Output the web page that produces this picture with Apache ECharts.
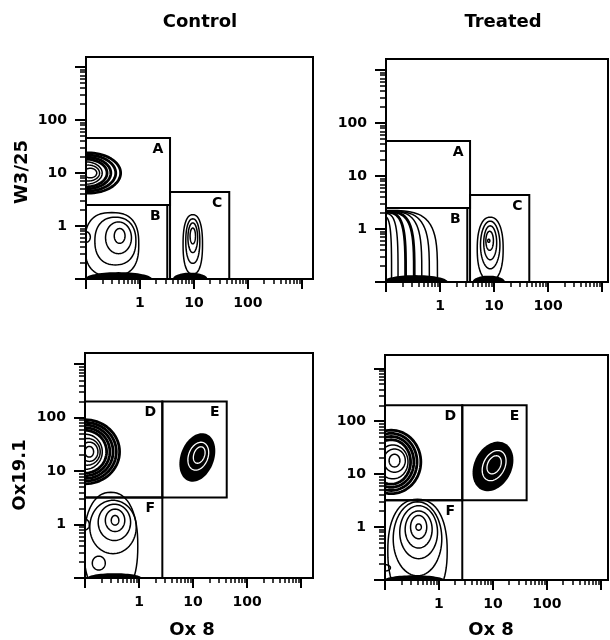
<!DOCTYPE html>
<html><head><meta charset="utf-8">
<script src="https://cdn.jsdelivr.net/npm/echarts@6/dist/echarts.min.js"></script>
<style>html,body{margin:0;padding:0;background:#fff}#c{width:610px;height:640px}</style>
</head><body><div id="c"></div>
<script>
// ---- tick values (log axes) ----
const majorTicks = [0.1, 1, 10, 100, 1000];
const minorTicks = [0.2,0.3,0.4,0.5,0.6,0.7,0.8,0.9, 2,3,4,5,6,7,8,9, 20,30,40,50,60,70,80,90, 200,300,400,500,600,700,800,900];
const tickLabels = [1, 10, 100];

// ---- column / row titles ----
const columnTitles = ['Control', 'Treated'];
const rowTitles = ['W3/25', 'Ox19.1'];
const xTitle = 'Ox 8';

// ---- gates: [xFrom, xTo, yFrom, yTo] in fluorescence units ----
const gateNamesW3 = ['A', 'B', 'C'];
const gatesW3 = [[0.1, 3.6, 2.5, 46], [0.1, 3.2, 0.1, 2.5], [3.6, 45, 0.1, 4.4]];
const gateNamesOx = ['D', 'E', 'F'];
const gatesOx = [[0.1, 2.7, 3.2, 200], [2.7, 42, 3.2, 200], [0.1, 2.7, 0.1, 3.2]];

// ---- contour levels: [centreX, centreY, halfWidthDecades, halfHeightDecades, tiltDeg, squareness] ----
// Control, W3/25 vs Ox 8
const ctrlW3Heavy = [[0.11,10,0.6,0.38,0,2],[0.105,10,0.53,0.34,0,2],[0.1,10,0.46,0.3,0,2],[0.1,10,0.39,0.26,0,2]];
const ctrlW3Lines = [[0.1,10,0.3,0.21,0,2],[0.11,10,0.21,0.15,0,2],[0.12,10,0.12,0.09,0,2],
  [0.3,0.45,0.5,0.6,0,2.6],[0.35,0.52,0.38,0.45,0,2.3],[0.4,0.6,0.24,0.3,0,2],[0.42,0.65,0.1,0.14,0,2],[0.1,0.62,0.08,0.1,0,2],
  [9.5,0.45,0.18,0.56,0,2.4],[9.5,0.52,0.13,0.42,0,2.2],[9.5,0.6,0.09,0.28,0,2],[9.5,0.65,0.05,0.15,0,2]];
const ctrlW3Solid = [[0.4,0.1,0.62,0.13,0,2],[8.5,0.1,0.32,0.12,0,2]];
const ctrlW3White = [];
// Treated, W3/25 vs Ox 8
const trtW3Heavy = [[0.08,0.1,0.62,1.33,0,4],[0.08,0.1,0.46,1.32,0,4]];
const trtW3Lines = [[0.08,0.1,1.05,1.35,0,4],[0.08,0.1,0.9,1.34,0,4],[0.08,0.1,0.76,1.34,0,4],[0.08,0.1,0.32,1.3,0,4],[0.08,0.1,0.2,1.25,0,4],
  [8.5,0.42,0.24,0.6,0,2.3],[8.5,0.5,0.18,0.45,0,2],[8.5,0.55,0.12,0.32,0,2],[8.3,0.6,0.07,0.18,0,2],[8,0.6,0.02,0.03,0,2]];
const trtW3Solid = [[0.35,0.1,0.6,0.13,0,2],[8,0.1,0.3,0.12,0,2]];
const trtW3White = [];
// Control, Ox19.1 vs Ox 8
const ctrlOxHeavy = [[0.1,23,0.64,0.6,0,2],[0.1,23,0.58,0.55,0,2],[0.1,23,0.52,0.5,0,2],[0.1,23,0.46,0.45,0,2],[0.1,23,0.4,0.4,0,2]];
const ctrlOxLines = [[0.1,23,0.32,0.33,0,2],[0.11,23,0.24,0.25,0,2],[0.12,23,0.16,0.18,0,2],[0.12,23,0.08,0.1,0,2],
  [0.3,0.4,0.5,1.0,0,2.3],[0.33,0.9,0.43,0.5,0,2],[0.35,1.1,0.3,0.34,0,2],[0.36,1.2,0.18,0.21,0,2],[0.36,1.2,0.07,0.09,0,2],[0.18,0.19,0.12,0.13,0,2],[0.1,1.0,0.08,0.1,0,2],
  [13,20,0.05,0.08,-20,2]];
const ctrlOxSolid = [[12,18,0.31,0.47,-20,2],[0.35,0.1,0.5,0.09,0,2]];
const ctrlOxWhite = [[12.5,19,0.18,0.27,-20,2],[13,20,0.1,0.16,-20,2]];
// Treated, Ox19.1 vs Ox 8
const trtOxHeavy = [[0.13,17,0.55,0.6,0,2],[0.13,17,0.48,0.54,0,2],[0.13,17,0.42,0.48,0,2],[0.13,17,0.36,0.42,0,2]];
const trtOxLines = [[0.14,17,0.28,0.32,0,2],[0.15,18,0.2,0.22,0,2],[0.15,18,0.1,0.12,0,2],
  [0.4,0.35,0.55,0.98,0,2.3],[0.4,0.6,0.45,0.7,0,2],[0.42,0.8,0.35,0.5,0,2],[0.42,0.9,0.25,0.35,0,2],[0.42,1.0,0.15,0.22,0,2],[0.42,1.0,0.05,0.06,0,2],[0.1,0.17,0.1,0.06,0,2],
  [10.5,15,0.05,0.09,-25,2]];
const trtOxSolid = [[10,14,0.35,0.49,-25,2],[0.35,0.1,0.55,0.09,0,2]];
const trtOxWhite = [[10.5,14.5,0.2,0.3,-25,2],[10.5,15,0.12,0.18,-25,2]];

// ---- layout ----
const panels = [
  {grid:{left:86, top:57, width:227, height:222}, xMax:1600, yMax:1550, gates:gatesW3, names:gateNamesW3, heavy:ctrlW3Heavy, lines:ctrlW3Lines, solid:ctrlW3Solid, white:ctrlW3White},
  {grid:{left:386, top:59, width:222, height:223}, xMax:1290, yMax:1620, gates:gatesW3, names:gateNamesW3, heavy:trtW3Heavy, lines:trtW3Lines, solid:trtW3Solid, white:trtW3White},
  {grid:{left:85, top:353, width:228, height:225}, xMax:1660, yMax:1620, gates:gatesOx, names:gateNamesOx, heavy:ctrlOxHeavy, lines:ctrlOxLines, solid:ctrlOxSolid, white:ctrlOxWhite},
  {grid:{left:385, top:355, width:223, height:225}, xMax:1350, yMax:1780, gates:gatesOx, names:gateNamesOx, heavy:trtOxHeavy, lines:trtOxLines, solid:trtOxSolid, white:trtOxWhite}
];

const FONT = 'DejaVu Sans';
const grid = [], xAxis = [], yAxis = [], series = [];

function ellipseRenderer(fill, stroke, lw) {
  return function (params, api) {
    const cx = Math.log10(api.value(0)), cy = Math.log10(api.value(1));
    const rx = api.value(2), ry = api.value(3), rot = (api.value(4) || 0) * Math.PI / 180;
    const n = api.value(5) || 2;
    const pts = [];
    const N = 72;
    for (let i = 0; i <= N; i++) {
      const t = i / N * 2 * Math.PI;
      const c = Math.cos(t), s = Math.sin(t);
      const dx = rx * Math.sign(c) * Math.pow(Math.abs(c), 2 / n);
      const dy = ry * Math.sign(s) * Math.pow(Math.abs(s), 2 / n);
      const lx = cx + dx * Math.cos(rot) - dy * Math.sin(rot);
      const ly = cy + dx * Math.sin(rot) + dy * Math.cos(rot);
      pts.push(api.coord([Math.pow(10, lx), Math.pow(10, ly)]));
    }
    return {type: 'polygon', shape: {points: pts}, style: {fill: fill, stroke: stroke, lineWidth: lw, lineJoin: 'round'}};
  };
}

panels.forEach((p, i) => {
  grid.push(Object.assign({show: true, borderColor: '#000', borderWidth: 2, backgroundColor: '#fff'}, p.grid));
  const baseX = {type: 'log', logBase: 10, min: 0.1, max: p.xMax, gridIndex: i, position: 'bottom', splitLine: {show: false}};
  const baseY = {type: 'log', logBase: 10, min: 0.1, max: p.yMax, gridIndex: i, position: 'left', splitLine: {show: false}};
  const lbl = {show: true, customValues: tickLabels, color: '#000', fontFamily: FONT, fontWeight: 'bold', fontSize: 14};
  xAxis.push(Object.assign({}, baseX, {
    axisLine: {show: true, lineStyle: {color: '#000', width: 2}},
    axisTick: {show: true, customValues: minorTicks, length: 5, lineStyle: {color: '#000', width: 1.5}},
    axisLabel: Object.assign({margin: 17}, lbl)
  }));
  xAxis.push(Object.assign({}, baseX, {
    axisLine: {show: false},
    axisTick: {show: true, customValues: majorTicks, length: 10, lineStyle: {color: '#000', width: 2}},
    axisLabel: {show: false}
  }));
  yAxis.push(Object.assign({}, baseY, {
    axisLine: {show: true, lineStyle: {color: '#000', width: 2}},
    axisTick: {show: true, customValues: minorTicks, length: 6, lineStyle: {color: '#000', width: 1.5}},
    axisLabel: Object.assign({margin: 19}, lbl)
  }));
  yAxis.push(Object.assign({}, baseY, {
    axisLine: {show: false},
    axisTick: {show: true, customValues: majorTicks, length: 11, lineStyle: {color: '#000', width: 2}},
    axisLabel: {show: false}
  }));
  const xi = i * 2, yi = i * 2;
  const layers = [
    [p.solid, '#000', null, 0],
    [p.white, null, '#fff', 1.3],
    [p.heavy, null, '#000', 2.8],
    [p.lines, null, '#000', 1.5]
  ];
  layers.forEach(([data, fill, stroke, lw]) => {
    series.push({type: 'custom', xAxisIndex: xi, yAxisIndex: yi, clip: true, silent: true,
      encode: {x: 0, y: 1}, data: data, renderItem: ellipseRenderer(fill, stroke, lw)});
  });
  series.push({type: 'custom', xAxisIndex: xi, yAxisIndex: yi, clip: false, silent: true,
    encode: {x: [0, 1], y: [2, 3]}, data: p.gates,
    renderItem: (params, api) => {
      const tl = api.coord([api.value(0), api.value(3)]);
      const br = api.coord([api.value(1), api.value(2)]);
      return {type: 'group', children: [
        {type: 'rect', shape: {x: tl[0], y: tl[1], width: br[0] - tl[0], height: br[1] - tl[1]},
          style: {fill: 'none', stroke: '#000', lineWidth: 2}},
        {type: 'text', x: br[0] - 12, y: tl[1] + 11,
          style: {text: p.names[params.dataIndex], fill: '#000', font: 'bold 14px "' + FONT + '"', align: 'center', verticalAlign: 'middle'}}
      ]};
    }});
});

const titleFont = 'bold 18px "' + FONT + '"';
const graphic = [
  {type: 'text', x: 200, y: 22, style: {text: columnTitles[0], font: titleFont, fill: '#000', align: 'center', verticalAlign: 'middle'}},
  {type: 'text', x: 503, y: 22, style: {text: columnTitles[1], font: titleFont, fill: '#000', align: 'center', verticalAlign: 'middle'}},
  {type: 'text', x: 22, y: 172, rotation: Math.PI / 2, style: {text: rowTitles[0], font: titleFont, fill: '#000', align: 'center', verticalAlign: 'middle'}},
  {type: 'text', x: 20, y: 475, rotation: Math.PI / 2, style: {text: rowTitles[1], font: titleFont, fill: '#000', align: 'center', verticalAlign: 'middle'}},
  {type: 'text', x: 192, y: 630, style: {text: xTitle, font: titleFont, fill: '#000', align: 'center', verticalAlign: 'middle'}},
  {type: 'text', x: 491, y: 630, style: {text: xTitle, font: titleFont, fill: '#000', align: 'center', verticalAlign: 'middle'}}
];

const chart = echarts.init(document.getElementById('c'), null, {renderer: 'canvas'});
chart.setOption({animation: false, backgroundColor: '#fff', grid, xAxis, yAxis, series, graphic});
</script></body></html>
